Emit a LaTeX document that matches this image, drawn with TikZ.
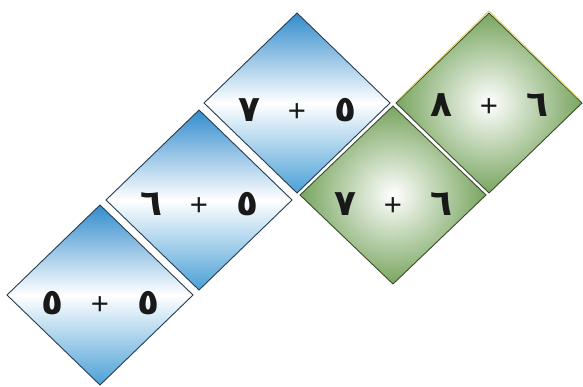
\documentclass[tikz,border=0pt]{standalone}
\usepackage{fontspec}
\TeXXeTstate=1
\newfontfamily\arabicfont[Script=Arabic]{DejaVu Sans}
\newfontfamily\plusfont{Liberation Sans}
\definecolor{blueT}{RGB}{50,140,205}
\definecolor{blueB}{RGB}{75,160,215}
\definecolor{blueD}{RGB}{40,60,80}
\definecolor{greenO}{RGB}{120,165,95}
\definecolor{greenD}{RGB}{60,75,45}
\definecolor{yelE}{RGB}{225,215,110}
\tikzset{
  bluetile/.style={draw=blueD, line width=0.9pt, top color=blueT, bottom color=blueB, middle color=white},
  greentile/.style={draw=greenD, line width=0.9pt, inner color=white, outer color=greenO},
  lbl/.style={inner sep=0pt, anchor=base, text=black!90}
}
\newcommand{\dg}[1]{\makebox[22pt]{\arabicfont\bfseries\fontsize{36}{36}\selectfont #1}}
\newcommand{\pl}{\makebox[16pt]{\plusfont\fontsize{31}{31}\selectfont +}}
\newcommand{\sumtext}[2]{\beginR\dg{#1}\hspace{29pt}\pl\hspace{29pt}\dg{#2}\endR}
\begin{document}
\begin{tikzpicture}[x=1pt,y=1pt]
\useasboundingbox (0,0) rectangle (583,386);
% tile 1
\begin{scope}[shift={(100,91)}]
  \draw[bluetile] (0,90) -- (93,0) -- (0,-90) -- (-93,0) -- cycle;
  \node[lbl] (t1) at (0,-19) {\sumtext{٥}{٥}};
\end{scope}
% tile 2
\begin{scope}[shift={(199,186)}]
  \draw[bluetile] (0,90) -- (93,0) -- (0,-90) -- (-93,0) -- cycle;
  \node[lbl] (t2) at (0,-15) {\sumtext{٥}{٦}};
\end{scope}
% tile 3
\begin{scope}[shift={(297,283)}]
  \draw[bluetile] (0,90) -- (93,0) -- (0,-90) -- (-93,0) -- cycle;
  \node[lbl] (t3) at (0,-19) {\sumtext{٥}{٧}};
\end{scope}
% tile 4
\begin{scope}[shift={(393,191)}]
  \draw[greentile] (0,89) -- (93,0) -- (0,-89) -- (-93,0) -- cycle;
  \node[lbl] (t4) at (0,-20) {\sumtext{٦}{٧}};
\end{scope}
% tile 5
\begin{scope}[shift={(489,283)}]
  \draw[greentile] (0,90) -- (93,0) -- (0,-90) -- (-93,0) -- cycle;
  \draw[yelE, line width=1pt] (-91,3) -- (0,92) -- (91,3);
  \node[lbl] (t5) at (0,-14) {\sumtext{٦}{٨}};
\end{scope}
\end{tikzpicture}
\end{document}
